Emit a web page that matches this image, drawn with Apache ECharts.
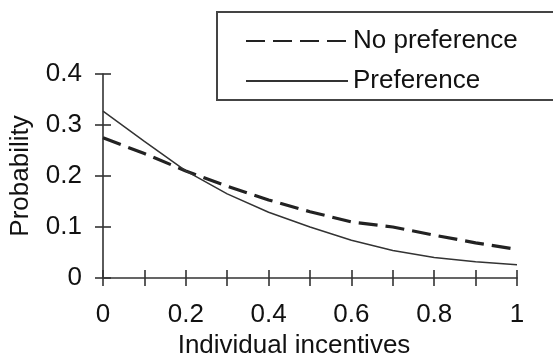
<!DOCTYPE html>
<html>
<head>
<meta charset="utf-8">
<script src="https://cdn.jsdelivr.net/npm/echarts@6/dist/echarts.min.js"></script>
<style>
  html, body { margin: 0; padding: 0; background: #fff; }
  #chart { width: 553px; height: 356px; }
</style>
</head>
<body>
<div id="chart"></div>
<script>
// Probability curves against the level of individual incentives
const incentives   = [0, 0.1, 0.2, 0.3, 0.4, 0.5, 0.6, 0.7, 0.8, 0.9, 1];
const noPreference = [0.275, 0.244, 0.210, 0.180, 0.153, 0.130, 0.110, 0.100, 0.084, 0.069, 0.056];
const preference   = [0.327, 0.268, 0.210, 0.165, 0.129, 0.100, 0.074, 0.054, 0.040, 0.032, 0.026];

const seriesNames = ['No preference', 'Preference'];
const xTickLabels = ['0', '', '0.2', '', '0.4', '', '0.6', '', '0.8', '', '1'];
const yTickLabels = ['0', '0.1', '0.2', '0.3', '0.4'];

const FONT = "'Liberation Sans', Arial, Helvetica, sans-serif";
const INK = '#111';
const AXIS = '#333';

const pairs = ys => incentives.map((x, i) => [x, ys[i]]);

const axisLine = { show: true, onZero: false, lineStyle: { color: AXIS, width: 1.6 } };
const tickStyle = { color: AXIS, width: 1.6 };

const chart = echarts.init(document.getElementById('chart'), null, { renderer: 'canvas' });

chart.setOption({
  animation: false,
  backgroundColor: '#fff',
  grid: { left: 103, right: 36, top: 74, bottom: 78, containLabel: false, outerBoundsMode: 'none' },
  legend: {
    data: seriesNames,
    orient: 'vertical',
    left: 217,
    top: 12,
    padding: [16, 38, 6, 28],
    itemWidth: 102,
    itemHeight: 14,
    itemGap: 14,
    borderColor: '#444',
    borderWidth: 2,
    itemStyle: { opacity: 0 },
    textStyle: { fontFamily: FONT, fontSize: 26, lineHeight: 26, color: INK }
  },
  xAxis: [
    {
      type: 'value', min: 0, max: 1, interval: 0.1,
      axisLine: axisLine,
      axisTick: { show: true, inside: false, length: 8, lineStyle: tickStyle },
      axisLabel: {
        margin: 24, fontFamily: FONT, fontSize: 26, color: INK,
        formatter: v => xTickLabels[Math.round(v * 10)]
      },
      splitLine: { show: false },
      name: 'Individual incentives',
      nameLocation: 'middle',
      nameGap: 54,
      nameTextStyle: { fontFamily: FONT, fontSize: 26, color: INK, padding: [0, 32, 0, 0] }
    },
    {
      type: 'value', min: 0, max: 1, interval: 0.1, position: 'bottom',
      axisLine: { show: false },
      axisTick: { show: true, inside: true, length: 8, lineStyle: tickStyle },
      axisLabel: { show: false },
      splitLine: { show: false }
    }
  ],
  yAxis: [
    {
      type: 'value', min: 0, max: 0.4, interval: 0.1,
      axisLine: axisLine,
      axisTick: { show: true, inside: false, length: 8, lineStyle: tickStyle },
      axisLabel: {
        margin: 21, fontFamily: FONT, fontSize: 26, color: INK,
        formatter: v => yTickLabels[Math.round(v * 10)]
      },
      splitLine: { show: false },
      name: 'Probability',
      nameLocation: 'middle',
      nameRotate: 90,
      nameGap: 69,
      nameTextStyle: { fontFamily: FONT, fontSize: 26, color: INK }
    },
    {
      type: 'value', min: 0, max: 0.4, interval: 0.1, position: 'left',
      axisLine: { show: false },
      axisTick: { show: true, inside: true, length: 8, lineStyle: tickStyle },
      axisLabel: { show: false },
      splitLine: { show: false }
    }
  ],
  series: [
    {
      name: seriesNames[0],
      type: 'line',
      xAxisIndex: 0, yAxisIndex: 0,
      data: pairs(noPreference),
      symbol: 'none',
      lineStyle: { color: '#222', width: 3.2, type: [19, 8] },
      itemStyle: { color: '#222' }
    },
    {
      name: seriesNames[1],
      type: 'line',
      xAxisIndex: 0, yAxisIndex: 0,
      data: pairs(preference),
      symbol: 'none',
      lineStyle: { color: '#333', width: 1.5 },
      itemStyle: { color: '#333' }
    }
  ]
});
</script>
</body>
</html>
